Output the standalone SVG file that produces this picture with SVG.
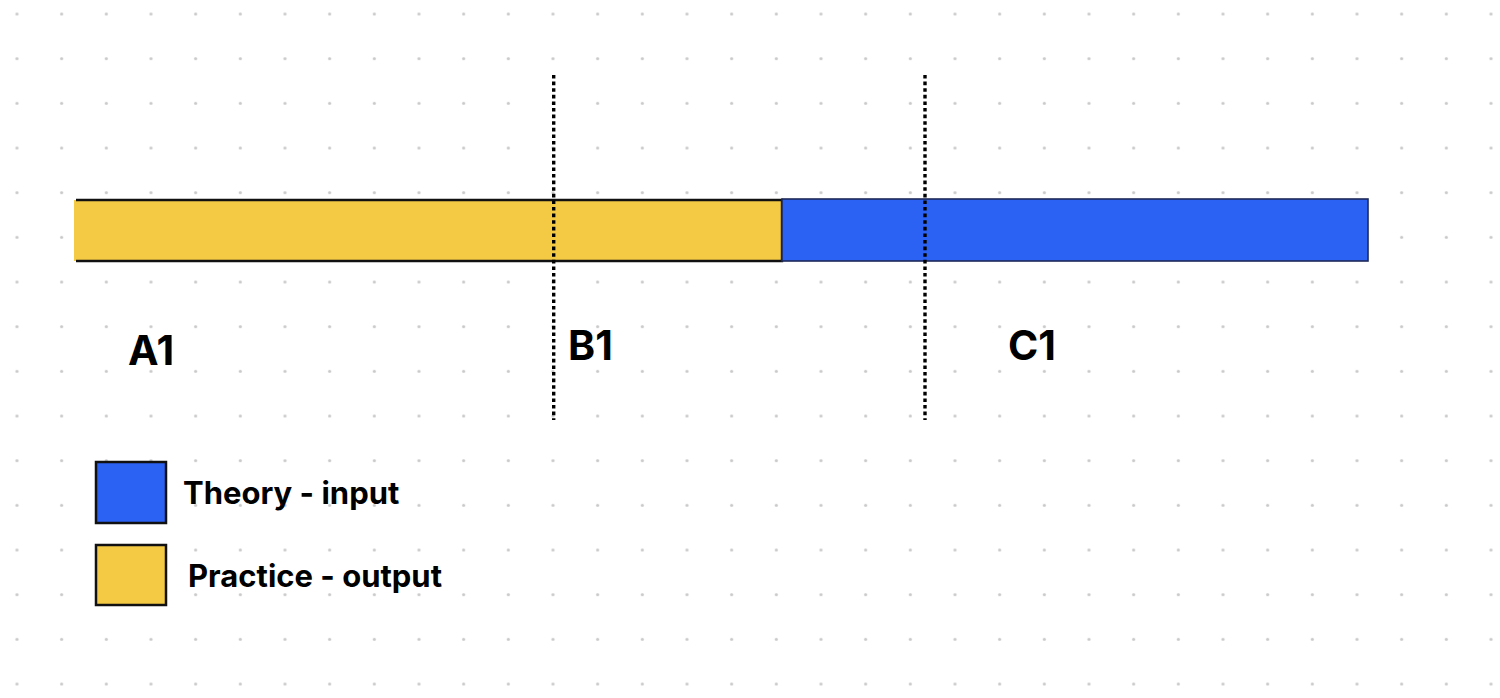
<svg xmlns="http://www.w3.org/2000/svg" width="1500" height="698" viewBox="0 0 1500 698">
<defs>
<pattern id="dots" patternUnits="userSpaceOnUse" x="-5.333" y="-8.333" width="44.667" height="44.667">
<circle cx="22.333" cy="22.333" r="1.6" fill="#c9c9c9"/>
</pattern>
</defs>
<style>
.lbl{font-family:Inter,"Liberation Sans",sans-serif;font-weight:700;fill:#000}
.big{font-size:41px}
.leg{font-size:31px}
.div{stroke:#000;stroke-width:3.4;stroke-dasharray:3.6 3;fill:none}
</style>
<rect width="1500" height="698" fill="#fff"/>
<rect width="1500" height="698" fill="url(#dots)"/>
<g id="bar-practice">
<rect x="74" y="200" width="708" height="61" fill="#F4CA44"/>
<path d="M76 200 H782 V261 H76" fill="none" stroke="#111" stroke-width="2.4"/>
</g>
<g id="bar-theory">
<rect x="782" y="199" width="586" height="62" fill="#2B62F4" stroke="#1d2a5a" stroke-width="1.6"/>
</g>
<g id="connectors">
<line class="div" x1="553.7" y1="75" x2="553.7" y2="420"/>
<line class="div" x1="925" y1="75" x2="925" y2="420"/>
</g>
<g id="label-a1"><text class="lbl big" x="128" y="365">A1</text></g>
<g id="label-b1"><text class="lbl big" x="568" y="360">B1</text></g>
<g id="label-c1"><text class="lbl big" x="1008" y="360">C1</text></g>
<g id="legend-theory">
<rect x="96" y="462" width="70" height="61" fill="#2B62F4" stroke="#111" stroke-width="2.5"/>
<text class="lbl leg" x="183" y="504">Theory - input</text>
</g>
<g id="legend-practice">
<rect x="96" y="545" width="70" height="60" fill="#F4CA44" stroke="#111" stroke-width="2.5"/>
<text class="lbl leg" x="188" y="587">Practice - output</text>
</g>
</svg>
